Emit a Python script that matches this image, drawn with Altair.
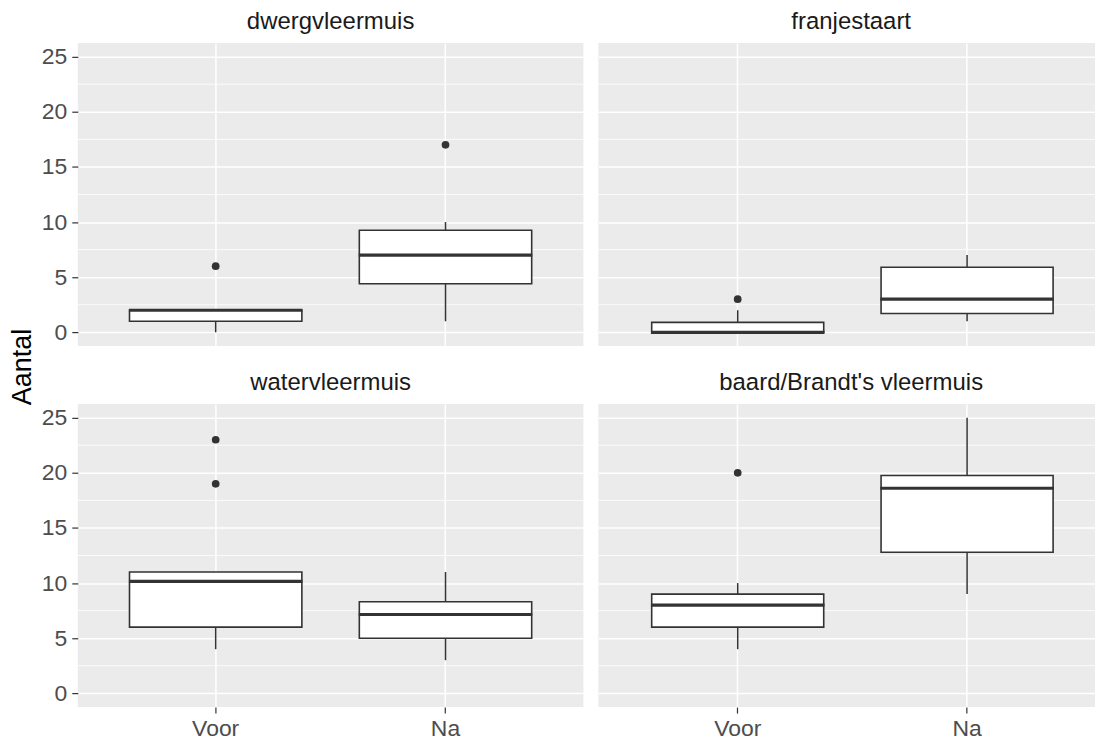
import altair as alt
import pandas as pd

FONT = "Liberation Sans"

species_order = ["dwergvleermuis", "franjestaart", "watervleermuis", "baard/Brandt's vleermuis"]
periods = ["Voor", "Na"]

box_species = ["dwergvleermuis", "dwergvleermuis", "franjestaart", "franjestaart",
               "watervleermuis", "watervleermuis",
               "baard/Brandt's vleermuis", "baard/Brandt's vleermuis"]
box_period = ["Voor", "Na", "Voor", "Na", "Voor", "Na", "Voor", "Na"]
whisker_low = [0, 1, 0, 1, 4, 3, 4, 9]
q1 = [1, 4.4, 0, 1.7, 6, 5, 6, 12.8]
median = [2, 7, 0, 3, 10.15, 7.15, 8, 18.6]
q3 = [2, 9.25, 0.9, 5.9, 11, 8.3, 9, 19.75]
whisker_high = [2, 10, 2, 7, 11, 11, 10, 25]

out_species = ["dwergvleermuis", "dwergvleermuis", "franjestaart",
               "watervleermuis", "watervleermuis", "baard/Brandt's vleermuis"]
out_period = ["Voor", "Na", "Voor", "Voor", "Voor", "Voor"]
out_value = [6, 17, 3, 23, 19, 20]

major_ticks = [0, 5, 10, 15, 20, 25]
minor_grid = [2.5, 7.5, 12.5, 17.5, 22.5]

boxes = pd.DataFrame({"species": box_species, "period": box_period, "lo": whisker_low,
                      "q1": q1, "med": median, "q3": q3, "hi": whisker_high})
outl = pd.DataFrame({"species": out_species, "period": out_period, "v": out_value})
minor = pd.DataFrame({"g": minor_grid})

INK = "#333333"
YSCALE = alt.Scale(domain=[-1.25, 26.25], nice=False, zero=False)


def panel(sp, width, pad_outer, align, left, bottom, dx=0):
    xscale = alt.Scale(domain=periods, paddingInner=0.25, paddingOuter=pad_outer, align=align)
    xaxis = alt.Axis(title=None, labels=bottom, ticks=bottom, domain=False, grid=True,
                     gridColor="white", gridWidth=1.5, bandPosition=0.5,
                     labelFontSize=23, labelColor="#4D4D4D", labelFont=FONT,
                     tickColor=INK, tickSize=6, tickWidth=1.2, labelPadding=4, labelAngle=0)
    yaxis = alt.Axis(title=None, values=major_ticks, labels=left, ticks=left, domain=False,
                     grid=True, gridColor="white", gridWidth=1.5,
                     labelFontSize=23, labelColor="#4D4D4D", labelFont=FONT,
                     tickColor=INK, tickSize=6, tickWidth=1.2, labelPadding=5)
    X = alt.X("period:N", scale=xscale, axis=xaxis, sort=periods)

    d = boxes[boxes.species == sp]
    o = outl[outl.species == sp]

    grid_minor = alt.Chart(minor).mark_rule(color="white", strokeWidth=0.8).encode(
        y=alt.Y("g:Q", scale=YSCALE, axis=yaxis))
    base = alt.Chart(d)
    w_lo = base.mark_rule(color=INK, strokeWidth=1.5).encode(
        x=X, y=alt.Y("lo:Q", scale=YSCALE, axis=yaxis), y2="q1")
    w_hi = base.mark_rule(color=INK, strokeWidth=1.5).encode(
        x=X, y=alt.Y("q3:Q", scale=YSCALE, axis=yaxis), y2="hi")
    box = base.mark_bar(fill="white", stroke=INK, strokeWidth=1.6).encode(
        x=X, y=alt.Y("q1:Q", scale=YSCALE, axis=yaxis), y2="q3")
    med = base.mark_tick(color=INK, thickness=3.2, size=174, opacity=1).encode(
        x=X, y=alt.Y("med:Q", scale=YSCALE, axis=yaxis))
    pts = alt.Chart(o).mark_circle(color=INK, size=60, opacity=1).encode(
        x=X, y=alt.Y("v:Q", scale=YSCALE, axis=yaxis))

    return alt.layer(grid_minor, w_lo, w_hi, box, med, pts).properties(
        width=width, height=304,
        title=alt.TitleParams(text=sp, fontSize=24, font=FONT, color="#1A1A1A",
                              fontWeight="normal", anchor="middle", offset=9, dx=dx))


p1 = panel(species_order[0], 507, 0.225, 0.5, True, False)
p2 = panel(species_order[1], 498, 0.2076, 0.56, False, False, dx=4.5)
p3 = panel(species_order[2], 507, 0.225, 0.5, True, True)
p4 = panel(species_order[3], 498, 0.2076, 0.56, False, True, dx=4.5)

grid = alt.vconcat(alt.hconcat(p1, p2, spacing=13), alt.hconcat(p3, p4, spacing=13), spacing=25)

ylab = alt.Chart(pd.DataFrame({"t": ["Aantal"]})).mark_text(
    angle=270, fontSize=27, font=FONT, color="black", align="center", baseline="alphabetic"
).encode(text="t:N", x=alt.value(31), y=alt.value(325)).properties(
    width=41, height=600, view=alt.ViewBackground(fill="white", stroke=None))

chart = alt.hconcat(ylab, grid, spacing=0).properties(
    padding={"left": 0, "top": 9, "right": 0, "bottom": 0},
    background="white",
).configure_view(fill="#EBEBEB", stroke=None)

chart.save("out.html", embed_options={"renderer": "svg", "actions": False})
